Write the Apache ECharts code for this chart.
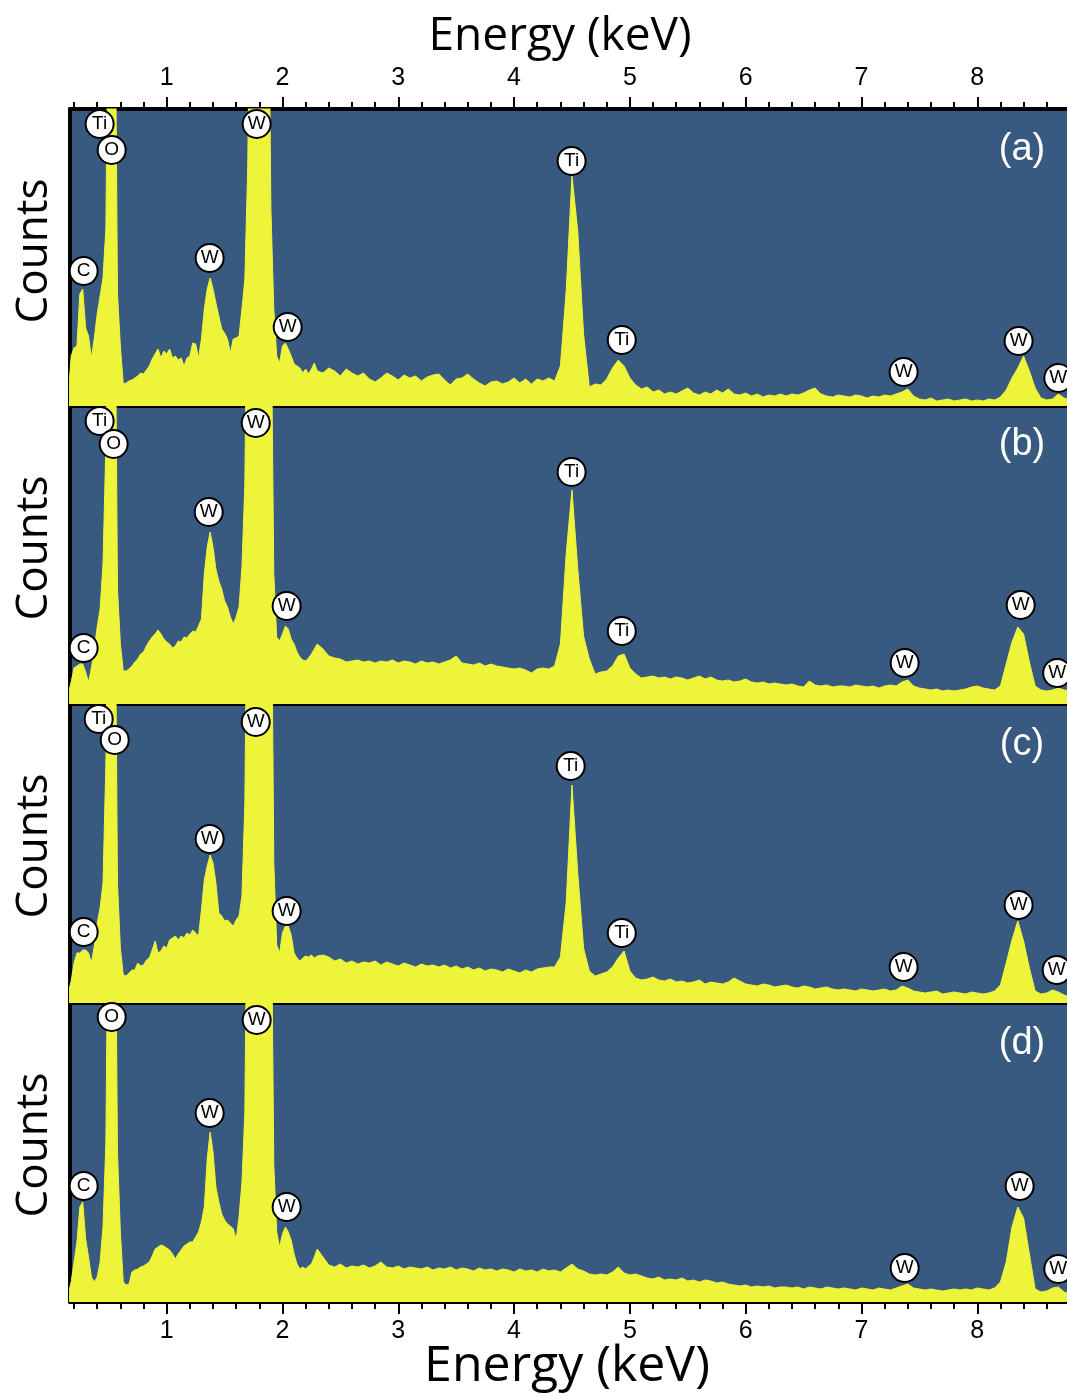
<!DOCTYPE html>
<html><head><meta charset="utf-8">
<script src="https://cdn.jsdelivr.net/npm/echarts@6/dist/echarts.min.js"></script>
<style>html,body{margin:0;padding:0;background:#fff}#c{width:1067px;height:1396px}</style>
</head><body><div id="c"></div>
<script>
// Energy sampling (keV)
const ENERGY_LOW = [
 0.15,0.175,0.2,0.225,0.25,0.275,0.3,0.325,0.35,0.375,
 0.4,0.425,0.45,0.475,0.5,0.525,0.55,0.575,0.6,0.625,
 0.65,0.675,0.7,0.725,0.75,0.775,0.8,0.825,0.85,0.875,
 0.9,0.925,0.95,0.975,1.0,1.025,1.05,1.075,1.1,1.125,
 1.15,1.175,1.2,1.225,1.25,1.275,1.3,1.325,1.35,1.375,
 1.4,1.425,1.45,1.475,1.5,1.525,1.55,1.575,1.6,1.625,
 1.65,1.675,1.7,1.725,1.75,1.775,1.8,1.825,1.85,1.875,
 1.9,1.925,1.95,1.975,2.0,2.025,2.05,2.075,2.1,2.125,
 2.15,2.175,2.2,2.225,2.25,2.275,2.3];
const ENERGY_HIGH = [
 2.35,2.4,2.45,2.5,2.55,2.6,2.65,2.7,2.75,2.8,
 2.85,2.9,2.95,3.0,3.05,3.1,3.15,3.2,3.25,3.3,
 3.35,3.4,3.45,3.5,3.55,3.6,3.65,3.7,3.75,3.8,
 3.85,3.9,3.95,4.0,4.05,4.1,4.15,4.2,4.25,4.3,
 4.35,4.4,4.45,4.5,4.55,4.6,4.65,4.7,4.75,4.8,
 4.85,4.9,4.95,5.0,5.05,5.1,5.15,5.2,5.25,5.3,
 5.35,5.4,5.45,5.5,5.55,5.6,5.65,5.7,5.75,5.8,
 5.85,5.9,5.95,6.0,6.05,6.1,6.15,6.2,6.25,6.3,
 6.35,6.4,6.45,6.5,6.55,6.6,6.65,6.7,6.75,6.8,
 6.85,6.9,6.95,7.0,7.05,7.1,7.15,7.2,7.25,7.3,
 7.35,7.4,7.45,7.5,7.55,7.6,7.65,7.7,7.75,7.8,
 7.85,7.9,7.95,8.0,8.05,8.1,8.15,8.2,8.25,8.3,
 8.35,8.4,8.45,8.5,8.55,8.6,8.65,8.7,8.75,8.8,
 8.85];

// Counts (arbitrary units) per panel
const SPEC_A_LOW = [
 10, 50, 58, 60, 112, 117, 78, 70, 48, 68,
 92, 110, 128, 178, 500, 500, 500, 112, 60, 22,
 23, 25, 26, 28, 30, 33, 32, 36, 40, 47,
 52, 57, 48, 55, 52, 57, 48, 50, 46, 48,
 40, 48, 50, 63, 62, 48, 67, 97, 117, 128,
 117, 103, 90, 77, 73, 67, 53, 67, 68, 70,
 97, 127, 240, 500, 500, 500, 500, 500, 500, 500,
 197, 97, 50, 43, 60, 63, 57, 50, 42, 40,
 38, 33, 37, 32, 37, 43, 35];
const SPEC_A_HIGH = [
 33, 38, 35, 30, 37, 33, 30, 33, 27, 24,
 28, 33, 30, 26, 31, 28, 30, 25, 29, 31,
 32, 26, 21, 27, 28, 32, 27, 23, 20, 24,
 25, 22, 24, 28, 23, 27, 22, 27, 25, 28,
 25, 40, 115, 230, 175, 72, 19, 22, 21, 27,
 38, 46, 40, 28, 21, 17, 19, 14, 16, 12,
 14, 12, 15, 18, 13, 11, 14, 12, 16, 13,
 17, 12, 11, 13, 10, 12, 9, 11, 10, 12,
 10, 12, 11, 13, 16, 18, 12, 10, 9, 11,
 10, 9, 11, 10, 8, 10, 9, 11, 10, 12,
 14, 17, 10, 7, 6, 8, 5, 6, 7, 5,
 6, 7, 5, 6, 5, 7, 6, 9, 16, 28,
 38, 50, 35, 18, 8, 6, 7, 12, 8, 6,
 5];
const SPEC_B_LOW = [
 10, 22, 36, 38, 40, 40, 32, 22, 36, 55,
 77, 95, 140, 260, 500, 500, 500, 115, 60, 33,
 33, 35, 38, 42, 45, 50, 52, 58, 63, 67,
 70, 74, 70, 65, 62, 60, 56, 58, 63, 62,
 67, 66, 70, 73, 72, 78, 85, 130, 157, 172,
 157, 135, 123, 115, 103, 97, 87, 80, 87, 97,
 137, 220, 500, 500, 500, 500, 500, 500, 500, 500,
 420, 130, 67, 63, 70, 78, 75, 65, 60, 52,
 47, 44, 43, 46, 50, 55, 60];
const SPEC_B_HIGH = [
 55, 48, 46, 45, 42, 43, 44, 42, 43, 41,
 43, 42, 44, 41, 43, 42, 40, 43, 41, 42,
 40, 42, 44, 48, 41, 40, 39, 41, 38, 40,
 38, 37, 36, 35, 36, 34, 31, 35, 36, 35,
 38, 60, 150, 214, 135, 68, 45, 30, 32, 33,
 38, 48, 50, 36, 30, 26, 27, 28, 26, 27,
 25, 27, 26, 24, 26, 28, 25, 27, 24, 23,
 24, 22, 23, 25, 22, 21, 22, 20, 21, 20,
 19, 20, 18, 17, 23, 19, 18, 19, 17, 18,
 18, 17, 19, 18, 17, 18, 16, 18, 19, 18,
 22, 24, 18, 16, 15, 14, 15, 13, 14, 13,
 14, 15, 17, 18, 16, 15, 14, 18, 40, 62,
 77, 70, 42, 18, 14, 13, 14, 16, 14, 13,
 12];
const SPEC_C_LOW = [
 10, 22, 40, 50, 50, 53, 53, 50, 40, 57,
 80, 95, 120, 240, 500, 500, 500, 120, 55, 28,
 27, 30, 33, 33, 40, 37, 38, 43, 45, 53,
 62, 50, 52, 57, 55, 63, 65, 67, 63, 67,
 65, 70, 68, 73, 70, 67, 93, 123, 137, 148,
 140, 120, 90, 87, 82, 83, 80, 77, 83, 87,
 107, 200, 500, 500, 500, 500, 500, 500, 500, 500,
 500, 140, 58, 50, 70, 77, 77, 68, 50, 45,
 42, 45, 47, 46, 48, 45, 47];
const SPEC_C_HIGH = [
 48, 46, 42, 44, 40, 42, 39, 41, 40, 42,
 38, 41, 39, 37, 40, 38, 36, 39, 37, 38,
 36, 38, 35, 37, 34, 36, 33, 35, 32, 34,
 33, 31, 34, 32, 30, 33, 31, 34, 35, 36,
 36, 46, 100, 218, 130, 55, 32, 27, 29, 31,
 36, 45, 52, 32, 25, 23, 24, 26, 23, 22,
 24, 21, 22, 20, 21, 23, 19, 21, 20, 19,
 21, 25, 22, 19, 18, 17, 19, 18, 16, 17,
 18, 16, 15, 17, 16, 14, 15, 16, 14, 13,
 14, 13, 12, 14, 13, 12, 13, 14, 12, 13,
 17, 15, 12, 11, 10, 11, 12, 9, 10, 11,
 10, 9, 11, 10, 9, 10, 12, 18, 40, 63,
 82, 62, 35, 12, 9, 10, 13, 11, 8, 6,
 5];
const SPEC_D_LOW = [
 8, 20, 40, 60, 95, 100, 63, 45, 25, 20,
 25, 40, 75, 160, 500, 500, 500, 150, 70, 20,
 17, 18, 30, 32, 33, 35, 36, 38, 40, 46,
 53, 55, 57, 56, 54, 52, 48, 43, 48, 52,
 56, 58, 60, 60, 65, 70, 80, 95, 143, 170,
 150, 115, 100, 88, 82, 78, 76, 73, 63, 85,
 120, 190, 500, 500, 500, 500, 500, 500, 500, 500,
 450, 137, 70, 55, 68, 75, 70, 62, 48, 38,
 33, 35, 33, 36, 38, 45, 53];
const SPEC_D_HIGH = [
 45, 37, 35, 38, 34, 36, 35, 37, 34, 36,
 40, 35, 34, 36, 33, 35, 34, 33, 35, 32,
 34, 33, 35, 32, 34, 33, 31, 34, 32, 33,
 31, 33, 32, 30, 33, 31, 32, 30, 33, 31,
 32, 30, 34, 38, 33, 31, 28, 27, 28, 27,
 30, 35, 29, 27, 28, 26, 24, 23, 25, 22,
 23, 22, 24, 21, 22, 20, 22, 21, 19, 20,
 18, 17, 16, 17, 15, 16, 15, 16, 14, 15,
 15, 14, 15, 13, 15, 14, 13, 15, 14, 13,
 14, 13, 12, 14, 13, 12, 14, 13, 12, 14,
 16, 18, 14, 13, 12, 13, 12, 11, 12, 13,
 12, 13, 12, 14, 13, 12, 14, 20, 40, 75,
 95, 84, 48, 13, 10, 11, 14, 15, 10, 8,
 6];

// Element markers: [energy, height, symbol]
const LABELS_A = [[0.421,282,'Ti'],[0.525,256,'O'],[1.777,282,'W'],[0.283,135,'C'],[1.371,148,'W'],[2.045,79,'W'],[4.497,245,'Ti'],[4.93,66,'Ti'],[7.364,34,'W'],[8.357,65,'W'],[8.70,28,'W']];
const LABELS_B = [[0.421,283,'Ti'],[0.542,260,'O'],[1.769,281,'W'],[1.363,192,'W'],[2.036,98,'W'],[0.283,56,'C'],[4.497,232,'Ti'],[4.93,73,'Ti'],[7.373,41,'W'],[8.375,99,'W'],[8.69,31,'W']];
const LABELS_C = [[0.413,284,'Ti'],[0.551,263,'O'],[1.769,281,'W'],[1.371,164,'W'],[2.036,92,'W'],[0.283,71,'C'],[4.489,237,'Ti'],[4.93,70,'Ti'],[7.364,36,'W'],[8.357,98,'W'],[8.686,33,'W']];
const LABELS_D = [[0.525,285,'O'],[1.777,282,'W'],[1.371,189,'W'],[0.283,116,'C'],[2.036,95,'W'],[7.373,34,'W'],[8.366,116,'W'],[8.70,33,'W']];

const MAJOR_TICKS = [1,2,3,4,5,6,7,8];
const MINOR_TICKS = [0.2,0.4,0.6,0.8,1.2,1.4,1.6,1.8,2.2,2.4,2.6,2.8,3.2,3.4,3.6,3.8,4.2,4.4,4.6,4.8,5.2,5.4,5.6,5.8,6.2,6.4,6.6,6.8,7.2,7.4,7.6,7.8,8.2,8.4,8.6];
const PANEL_TAGS = ['(a)','(b)','(c)','(d)'];

const ENERGY = ENERGY_LOW.concat(ENERGY_HIGH);
const SPECTRA = [
  SPEC_A_LOW.concat(SPEC_A_HIGH),
  SPEC_B_LOW.concat(SPEC_B_HIGH),
  SPEC_C_LOW.concat(SPEC_C_HIGH),
  SPEC_D_LOW.concat(SPEC_D_HIGH)];
const LABELS = [LABELS_A, LABELS_B, LABELS_C, LABELS_D];
SPECTRA.forEach((s,i)=>{ if (s.length !== ENERGY.length) console.error('length mismatch panel '+i+': '+s.length+' vs '+ENERGY.length); });

const X_MIN = 0.165, X_MAX = 8.775;
const BG = '#385a80', YEL = '#eef43a';
const GRIDS = [{top:109,height:297},{top:406,height:298},{top:704,height:299},{top:1003,height:299}];
const TICK_FONT = "'Liberation Sans Narrow','Liberation Sans',Arial,sans-serif";

function xBase(gi, pos){
  return {type:'value', gridIndex:gi, position:pos, min:X_MIN, max:X_MAX,
    splitLine:{show:false}, axisLine:{show:false, onZero:false},
    axisTick:{show:false}, axisLabel:{show:false}};
}
const xAxis = [];
xAxis.push(Object.assign(xBase(0,'top'), {
  axisLine:{show:true, onZero:false, lineStyle:{color:'#000', width:4}},
  axisTick:{show:true, customValues:MAJOR_TICKS, length:12, lineStyle:{color:'#000', width:2}},
  axisLabel:{show:true, customValues:MAJOR_TICKS, margin:18, fontSize:25, color:'#000', fontFamily:TICK_FONT}
}));
xAxis.push(Object.assign(xBase(0,'top'), {
  axisTick:{show:true, customValues:MINOR_TICKS, length:7, lineStyle:{color:'#000', width:2}}
}));
for (let g=0; g<3; g++){
  xAxis.push(Object.assign(xBase(g,'bottom'), {
    axisLine:{show:true, onZero:false, lineStyle:{color:'#000', width:4}}
  }));
}
xAxis.push(Object.assign(xBase(3,'bottom'), {
  axisLine:{show:true, onZero:false, lineStyle:{color:'#000', width:4}},
  axisTick:{show:true, customValues:MAJOR_TICKS, length:12, lineStyle:{color:'#000', width:2}},
  axisLabel:{show:true, customValues:MAJOR_TICKS, margin:17, fontSize:25, color:'#000', fontFamily:TICK_FONT}
}));
xAxis.push(Object.assign(xBase(3,'bottom'), {
  axisTick:{show:true, customValues:MINOR_TICKS, length:7, lineStyle:{color:'#000', width:2}}
}));
const SERIES_X = [2,3,4,5];

const yAxis = GRIDS.map((g,i)=>({
  type:'value', gridIndex:i, min:0, max:g.height,
  splitLine:{show:false}, axisTick:{show:false}, axisLabel:{show:false},
  axisLine:{show:true, onZero:false, lineStyle:{color:'#000', width:4}}
}));

const grid = GRIDS.map(g=>({left:70, right:0, top:g.top, height:g.height,
  show:true, backgroundColor:BG, borderWidth:0}));

const series = [];
SPECTRA.forEach((vals,i)=>{
  series.push({type:'line', xAxisIndex:SERIES_X[i], yAxisIndex:i,
    data: ENERGY.map((e,k)=>[e, vals[k]]),
    symbol:'none', showSymbol:false, clip:true, z:2, silent:true,
    lineStyle:{color:YEL, width:1}, areaStyle:{color:YEL, opacity:1}});
});
LABELS.forEach((lab,i)=>{
  series.push({type:'scatter', xAxisIndex:SERIES_X[i], yAxisIndex:i,
    data: lab, symbol:'circle', symbolSize:28, clip:false, z:5, silent:true,
    itemStyle:{color:'#fff', borderColor:'#000', borderWidth:2, opacity:1},
    label:{show:true, position:'inside', formatter:p=>p.data[2], color:'#000',
      fontSize:19, fontFamily:"'Liberation Sans',Arial,sans-serif"}});
});

const TAG_Y = [150, 445, 745, 1044];
const COUNTS_Y = [251, 548, 846, 1145];
const graphic = [];
PANEL_TAGS.forEach((t,i)=>{
  graphic.push({type:'text', x:1022, y:TAG_Y[i], z:10,
    style:{text:t, fill:'#fff', font:"38px 'Liberation Sans',Arial,sans-serif", textAlign:'center', textVerticalAlign:'middle'}});
  graphic.push({type:'text', x:34, y:COUNTS_Y[i], rotation:Math.PI/2, z:10,
    style:{text:'Counts', fill:'#000', font:"44px 'Open Sans',sans-serif", textAlign:'center', textVerticalAlign:'middle'}});
});
graphic.push({type:'text', x:560, y:37, style:{text:'Energy (keV)', fill:'#000', font:"46px 'Open Sans',sans-serif", textAlign:'center', textVerticalAlign:'middle'}});
graphic.push({type:'text', x:567, y:1367, style:{text:'Energy (keV)', fill:'#000', font:"50px 'Open Sans',sans-serif", textAlign:'center', textVerticalAlign:'middle'}});

const chart = echarts.init(document.getElementById('c'), null, {renderer:'canvas'});
chart.setOption({animation:false, backgroundColor:'#fff', grid, xAxis, yAxis, series, graphic});
</script></body></html>
